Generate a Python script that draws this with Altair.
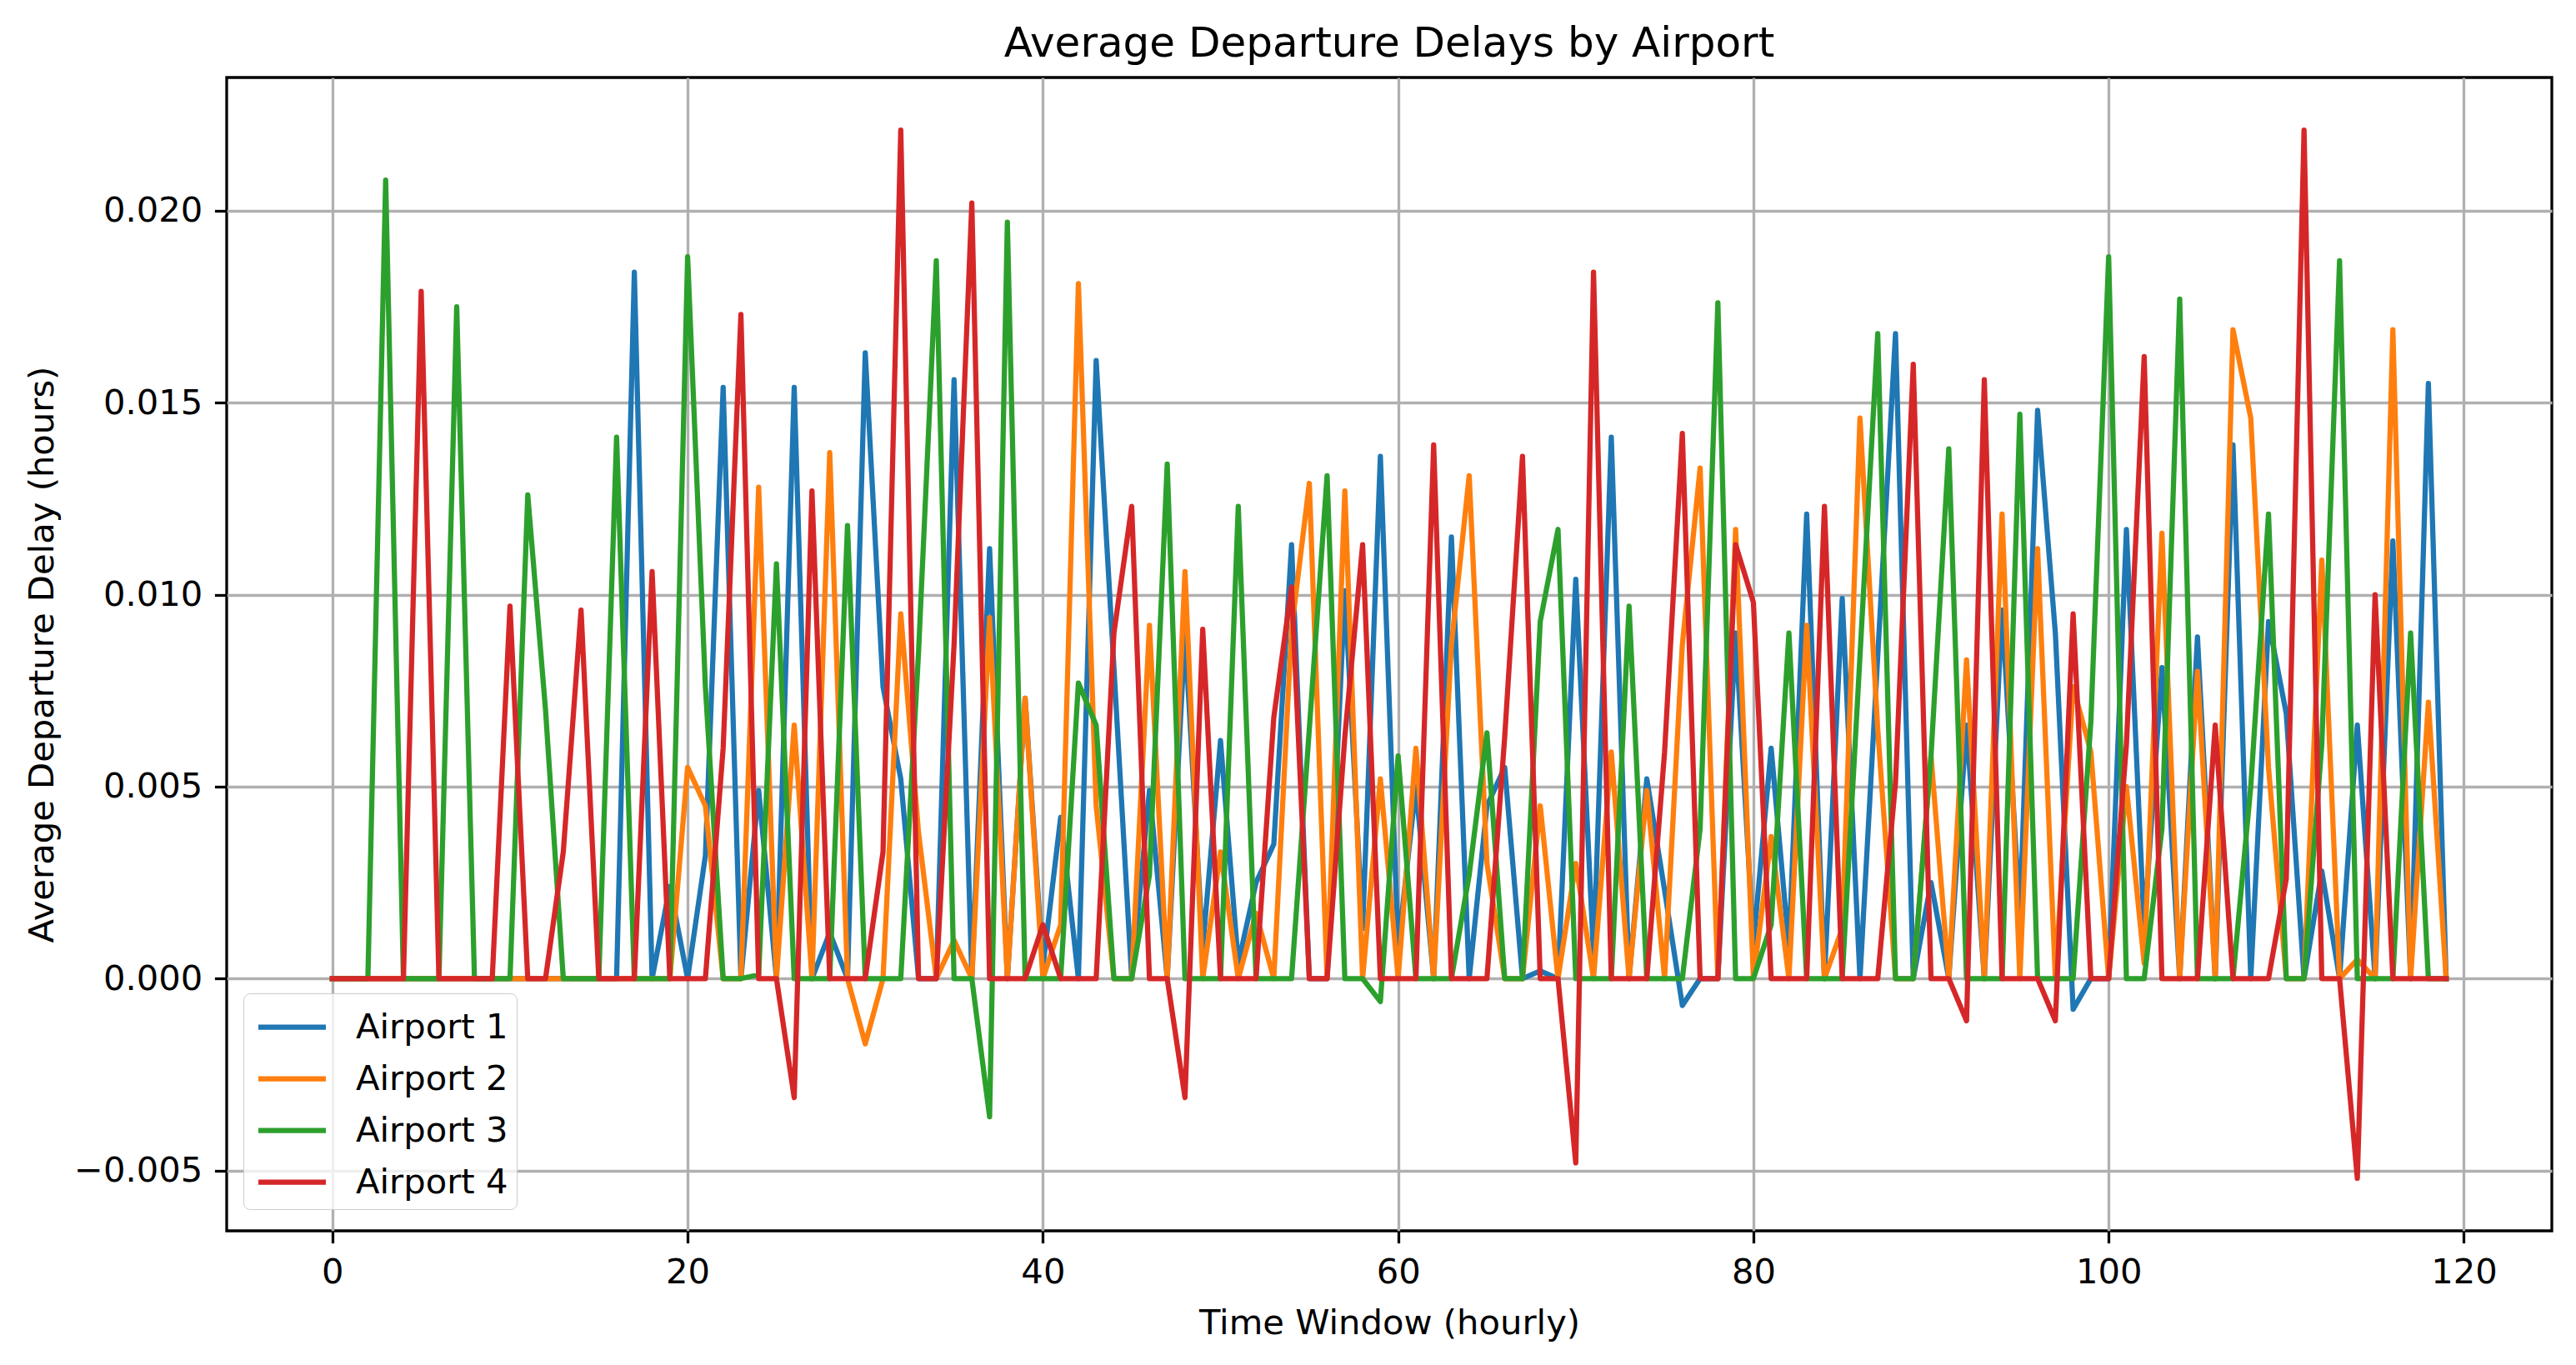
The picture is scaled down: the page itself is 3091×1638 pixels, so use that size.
import altair as alt
import pandas as pd

hours = list(range(120))

airport_1 = [0, 0, 0, 0, 0, 0, 0, 0, 0, 0,
             0, 0, 0, 0, 0, 0, 0, 0.0184, 0, 0.0024,
             0, 0.0032, 0.0154, 0, 0.0049, 0, 0.0154, 0, 0.0012, 0,
             0.0163, 0.0076, 0.0052, 0, 0, 0.0156, 0, 0.0112, 0, 0.0073,
             0.0003, 0.0042, 0, 0.0161, 0.0081, 0, 0.0049, 0, 0.0090, 0.0008,
             0.0062, 0.0004, 0.0025, 0.0035, 0.0113, 0, 0, 0.0101, 0.0013, 0.0136,
             0.0008, 0.0050, 0, 0.0115, 0, 0.0045, 0.0055, 0, 0.0002, 0,
             0.0104, 0.0006, 0.0141, 0, 0.0052, 0.0023, -0.0007, 0, 0, 0.0090,
             0.0009, 0.0060, 0.0008, 0.0121, 0, 0.0099, 0, 0.0084, 0.0168, 0,
             0.0025, 0, 0.0066, 0, 0.0096, 0.0016, 0.0148, 0.0090, -0.0008, 0,
             0, 0.0117, 0.0013, 0.0081, 0, 0.0089, 0, 0.0139, 0, 0.0093,
             0.0069, 0, 0.0028, 0, 0.0066, 0, 0.0114, 0, 0.0155, 0]

airport_2 = [0, 0, 0, 0, 0, 0, 0, 0, 0, 0,
             0, 0, 0, 0, 0, 0, 0, 0, 0, 0,
             0.0055, 0.0045, 0, 0, 0.0128, 0, 0.0066, 0, 0.0137, 0,
             -0.0017, 0, 0.0095, 0.0038, 0, 0.0010, 0, 0.0094, 0, 0.0073,
             0, 0.0014, 0.0181, 0.0045, 0, 0, 0.0092, 0, 0.0106, 0,
             0.0033, 0, 0.0017, 0, 0.0091, 0.0129, 0, 0.0127, 0, 0.0052,
             0, 0.0060, 0, 0.0087, 0.0131, 0.0030, 0, 0, 0.0045, 0,
             0.0030, 0, 0.0059, 0, 0.0049, 0, 0.0087, 0.0133, 0, 0.0117,
             0, 0.0037, 0, 0.0092, 0, 0.0013, 0.0146, 0.0065, 0, 0,
             0.0058, 0, 0.0083, 0, 0.0121, 0, 0.0112, 0, 0.0076, 0.0059,
             0, 0.0050, 0.0004, 0.0116, 0, 0.0080, 0, 0.0169, 0.0146, 0.0055,
             0, 0, 0.0109, 0, 0.0005, 0, 0.0169, 0, 0.0072, 0]

airport_3 = [0, 0, 0, 0.0208, 0, 0, 0, 0.0175, 0, 0,
             0, 0.0126, 0.0070, 0, 0, 0, 0.0141, 0, 0, 0,
             0.0188, 0.0076, 0, 0, 0.0001, 0.0108, 0, 0, 0, 0.0118,
             0, 0, 0, 0.0085, 0.0187, 0, 0, -0.0036, 0.0197, 0,
             0, 0, 0.0077, 0.0066, 0, 0, 0.0027, 0.0134, 0, 0,
             0, 0.0123, 0, 0, 0, 0.0065, 0.0131, 0, 0, -0.0006,
             0.0058, 0, 0, 0, 0.0027, 0.0064, 0, 0, 0.0093, 0.0117,
             0, 0, 0, 0.0097, 0, 0, 0, 0.0039, 0.0176, 0,
             0, 0.0014, 0.0090, 0, 0, 0, 0.0084, 0.0168, 0, 0,
             0.0058, 0.0138, 0, 0, 0, 0.0147, 0, 0, 0, 0.0067,
             0.0188, 0, 0, 0.0039, 0.0177, 0, 0, 0, 0.0050, 0.0121,
             0, 0, 0.0061, 0.0187, 0, 0, 0, 0.0090, 0, 0]

airport_4 = [0, 0, 0, 0, 0, 0.0179, 0, 0, 0, 0,
             0.0097, 0, 0, 0.0033, 0.0096, 0, 0, 0, 0.0106, 0,
             0, 0, 0.0060, 0.0173, 0, 0, -0.0031, 0.0127, 0, 0,
             0, 0.0033, 0.0221, 0, 0, 0.0087, 0.0202, 0, 0, 0,
             0.0014, 0, 0, 0, 0.0090, 0.0123, 0, 0, -0.0031, 0.0091,
             0, 0, 0, 0.0068, 0.0102, 0, 0, 0.0063, 0.0113, 0,
             0, 0, 0.0139, 0, 0, 0, 0.0063, 0.0136, 0, 0,
             -0.0048, 0.0184, 0, 0, 0, 0.0059, 0.0142, 0, 0, 0.0113,
             0.0098, 0, 0, 0, 0.0123, 0, 0, 0, 0.0051, 0.0160,
             0, 0, -0.0011, 0.0156, 0, 0, 0, -0.0011, 0.0095, 0,
             0, 0.0061, 0.0162, 0, 0, 0, 0.0066, 0, 0, 0,
             0.0026, 0.0221, 0, 0, -0.0052, 0.0100, 0, 0, 0, 0]

series_names = ["Airport 1", "Airport 2", "Airport 3", "Airport 4"]
series_values = [airport_1, airport_2, airport_3, airport_4]
series_colors = ["#1f77b4", "#ff7f0e", "#2ca02c", "#d62728"]
x_ticks = [0, 20, 40, 60, 80, 100, 120]
y_ticks = [-0.005, 0.0, 0.005, 0.010, 0.015, 0.020]

rows = []
for name, vals in zip(series_names, series_values):
    for h, v in zip(hours, vals):
        rows.append({"hour": h, "delay": v, "airport": name})
df = pd.DataFrame(rows)

FONT = "DejaVu Sans"
TICK_FS = 41.7

chart = alt.Chart(df).mark_line(
    strokeWidth=6.25, strokeJoin="round", strokeCap="square", clip=True
).encode(
    x=alt.X("hour:Q",
            scale=alt.Scale(domain=[-5.95, 124.95], nice=False, zero=False),
            axis=alt.Axis(values=x_ticks, title="Time Window (hourly)",
                          format="d", titlePadding=20)),
    y=alt.Y("delay:Q",
            scale=alt.Scale(domain=[-0.00657, 0.02347], nice=False, zero=False),
            axis=alt.Axis(values=y_ticks, title="Average Departure Delay (hours)",
                          format=".3f", titlePadding=16)),
    color=alt.Color("airport:N",
                    scale=alt.Scale(domain=series_names, range=series_colors),
                    legend=alt.Legend(title=None, orient="none",
                                      legendX=20, legendY=1099,
                                      symbolType="M-1.5,0L1.5,0", symbolSize=2916,
                                      symbolStrokeWidth=6.25, symbolOffset=18,
                                      labelFontSize=TICK_FS, labelFont=FONT,
                                      labelColor="black", labelLimit=1000,
                                      labelOffset=46, rowPadding=9,
                                      padding=10, strokeColor="#cccccc",
                                      fillColor="rgba(255,255,255,0.8)",
                                      cornerRadius=8)),
).properties(
    width=2790,
    height=1384,
    title=alt.TitleParams("Average Departure Delays by Airport",
                          fontSize=50, font=FONT, fontWeight="normal",
                          color="black", offset=15, anchor="middle"),
    autosize=alt.AutoSizeParams(type="none"),
    padding={"left": 272, "top": 93, "right": 29, "bottom": 161},
    background="white",
).configure_view(
    stroke="black", strokeWidth=3.3
).configure_axis(
    grid=True, gridColor="#b0b0b0", gridWidth=3.3, gridOpacity=1,
    domain=False,
    ticks=True, tickColor="black", tickWidth=3.3, tickSize=14.6,
    labelFont=FONT, labelFontSize=TICK_FS, labelColor="black", labelPadding=14.6,
    titleFont=FONT, titleFontSize=TICK_FS, titleColor="black", titleFontWeight="normal",
    labelFlush=False, labelOverlap=False,
)

chart.save("out.html", embed_options={"renderer": "svg", "actions": False})
